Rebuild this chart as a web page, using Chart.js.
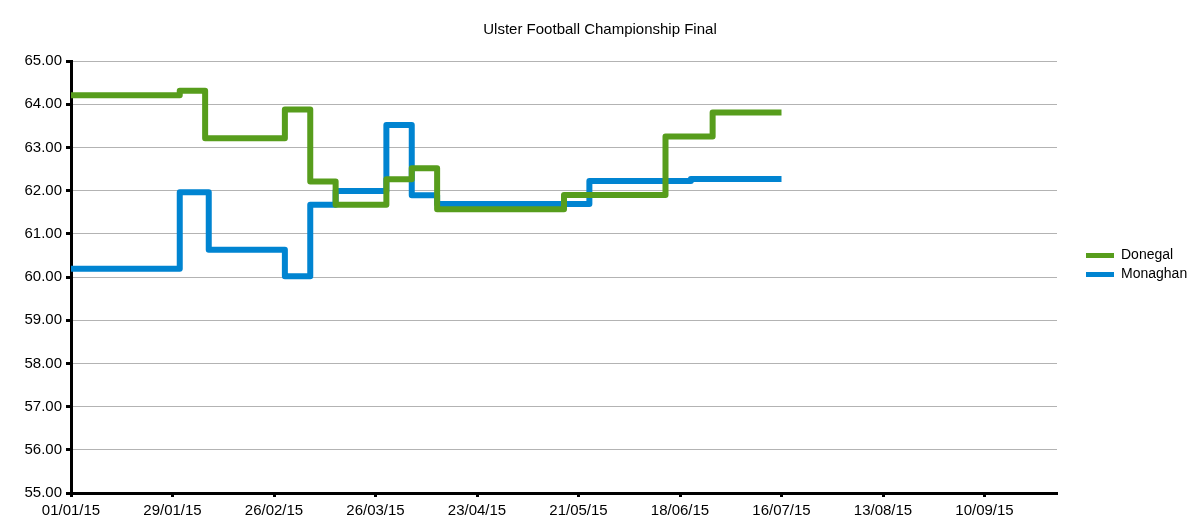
<!DOCTYPE html>
<html>
<head>
<meta charset="utf-8">
<title>Ulster Football Championship Final</title>
<script src="https://cdn.jsdelivr.net/npm/chart.js@4"></script>
<style>
  body { margin: 0; background: #fff; }
</style>
</head>
<body>
<canvas id="chart" width="1200" height="528"></canvas>
<script>
// days counted from 01/01/15, each point is the day the value changed
const donegalDays = [0, 30, 37, 59, 66, 73, 87, 94, 101, 136, 164, 177, 196];
const donegalValues = [64.21, 64.31, 63.21, 63.88, 62.21, 61.67, 62.26, 62.52, 61.57, 61.90, 63.25, 63.81, 63.81];
const monaghanDays = [0, 30, 38, 59, 66, 73, 87, 94, 101, 143, 171, 196];
const monaghanValues = [60.19, 61.96, 60.63, 60.02, 61.67, 61.99, 63.52, 61.89, 61.69, 62.22, 62.27, 62.27];

const tickDays = [0, 28, 56, 84, 112, 140, 168, 196, 224, 252];
const tickLabels = ['01/01/15', '29/01/15', '26/02/15', '26/03/15', '23/04/15', '21/05/15', '18/06/15', '16/07/15', '13/08/15', '10/09/15'];

const toPoints = (days, values) => days.map((d, i) => ({ x: d, y: values[i] }));

// legend sits in a fixed strip on the right
const legendPlacement = {
  id: 'legendPlacement',
  beforeLayout(chart) {
    const legend = chart.legend;
    if (legend && !legend._patched) {
      const fit = legend.fit;
      legend.fit = function () { fit.call(this); this.width = 143; };
      legend._patched = true;
    }
  },
  afterLayout(chart) {
    const legend = chart.legend;
    legend.left += 24;
    legend.right += 24;
    legend.top += 1;
    legend.bottom += 1;
  }
};

new Chart(document.getElementById('chart'), {
  type: 'line',
  data: {
    datasets: [{
      label: 'Donegal',
      data: toPoints(donegalDays, donegalValues),
      borderColor: '#579d1c',
      backgroundColor: '#579d1c',
    }, {
      label: 'Monaghan',
      data: toPoints(monaghanDays, monaghanValues),
      borderColor: '#0084d1',
      backgroundColor: '#0084d1',
    }]
  },
  options: {
    responsive: false,
    animation: false,
    layout: { padding: 0 },
    elements: {
      line: { borderWidth: 6, stepped: true, borderJoinStyle: 'round', fill: false },
      point: { radius: 0, hoverRadius: 0 }
    },
    plugins: {
      title: {
        display: true,
        text: 'Ulster Football Championship Final',
        color: '#000',
        font: { family: 'Liberation Sans', size: 15, weight: 'normal' },
        padding: { top: 21, bottom: 22 }
      },
      legend: {
        position: 'right',
        align: 'center',
        labels: {
          color: '#000',
          font: { family: 'Liberation Sans', size: 14 },
          boxWidth: 28,
          boxHeight: 5,
          padding: 5,
          generateLabels(chart) {
            return Chart.defaults.plugins.legend.labels.generateLabels(chart)
              .map(item => ({ ...item, lineWidth: 0 }));
          }
        }
      },
      tooltip: { enabled: false }
    },
    scales: {
      x: {
        type: 'linear',
        min: 0,
        max: 272,
        afterBuildTicks(scale) {
          scale.ticks = tickDays.map(v => ({ value: v }));
        },
        afterFit(scale) { scale.height = 35; },
        grid: { drawOnChartArea: false, tickLength: 4, tickColor: '#000', tickWidth: 3 },
        border: { color: '#000', width: 3 },
        ticks: {
          color: '#000',
          font: { family: 'Liberation Sans', size: 15 },
          padding: 5,
          maxRotation: 0,
          autoSkip: false,
          callback: v => tickLabels[tickDays.indexOf(v)]
        }
      },
      y: {
        min: 55,
        max: 65,
        afterFit(scale) { scale.width = 71; },
        grid: { color: '#b3b3b3', lineWidth: 1, tickLength: 5, tickColor: '#000', tickWidth: 3 },
        border: { color: '#000', width: 3 },
        ticks: {
          stepSize: 1,
          color: '#000',
          font: { family: 'Liberation Sans', size: 15 },
          padding: 4,
          callback: v => v.toFixed(2)
        }
      }
    }
  },
  plugins: [legendPlacement]
});
</script>
</body>
</html>
